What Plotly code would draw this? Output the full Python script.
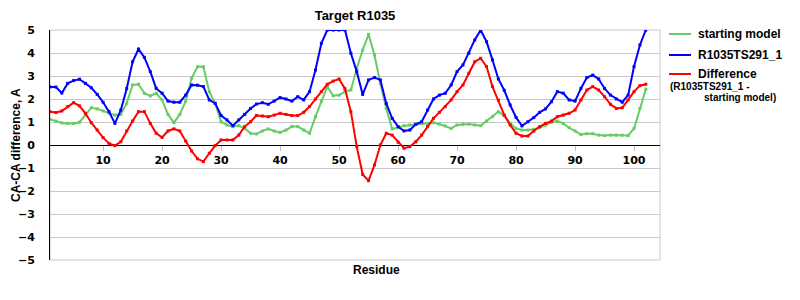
import plotly.graph_objects as go

residues = list(range(1, 103))

starting_model = [
    1.12, 1.04, 0.96, 0.94, 0.94, 0.99, 1.30, 1.62, 1.57, 1.48,
    1.38, 1.30, 1.33, 1.81, 2.61, 2.64, 2.25, 2.13, 2.25, 1.96,
    1.33, 0.97, 1.33, 1.91, 2.90, 3.40, 3.40, 2.32, 1.81, 1.01,
    0.87, 0.80, 0.84, 0.72, 0.51, 0.48, 0.61, 0.70, 0.61, 0.55,
    0.65, 0.80, 0.80, 0.65, 0.51, 1.23, 1.91, 2.54, 2.14, 2.17,
    2.32, 2.39, 3.33, 4.13, 4.81, 3.91, 2.68, 1.59, 0.70, 0.75,
    0.84, 0.87, 0.90, 0.93, 0.94, 0.97, 0.91, 0.83, 0.72, 0.87,
    0.90, 0.91, 0.87, 0.84, 1.04, 1.23, 1.45, 1.28, 0.94, 0.72,
    0.65, 0.65, 0.68, 0.75, 0.87, 0.99, 1.04, 0.94, 0.75, 0.61,
    0.46, 0.49, 0.49, 0.43, 0.41, 0.43, 0.43, 0.43, 0.41, 0.72,
    1.59, 2.43,
]

model_r1035ts291 = [
    2.52, 2.52, 2.26, 2.68, 2.80, 2.86, 2.68, 2.49, 2.20, 1.86,
    1.45, 0.94, 1.52, 2.45, 3.62, 4.17, 3.81, 3.19, 2.46, 2.25,
    1.91, 1.86, 1.86, 2.17, 2.61, 2.60, 2.54, 1.96, 1.81, 1.28,
    1.09, 0.84, 1.09, 1.33, 1.59, 1.78, 1.84, 1.77, 1.91, 2.06,
    2.00, 1.91, 2.10, 1.96, 2.32, 3.26, 4.42, 5.00, 5.00, 5.00,
    5.00, 3.99, 3.19, 2.20, 2.83, 2.93, 2.83, 1.81, 1.16, 0.80,
    0.61, 0.65, 0.90, 1.01, 1.52, 2.00, 2.17, 2.25, 2.61, 3.19,
    3.48, 3.99, 4.57, 5.00, 4.49, 3.70, 2.87, 2.38, 1.74, 1.20,
    0.83, 1.01, 1.19, 1.42, 1.57, 1.88, 2.32, 2.25, 1.96, 1.91,
    2.46, 2.93, 3.04, 2.87, 2.46, 2.17, 2.00, 1.86, 2.17, 3.41,
    4.35, 5.00,
]

difference = [
    1.45, 1.41, 1.48, 1.67, 1.84, 1.70, 1.38, 0.97, 0.65, 0.32,
    0.07, -0.03, 0.14, 0.61, 1.04, 1.45, 1.45, 0.94, 0.51, 0.33,
    0.61, 0.70, 0.61, 0.17, -0.26, -0.60, -0.72, -0.36, -0.03, 0.22,
    0.22, 0.22, 0.43, 0.80, 1.01, 1.28, 1.26, 1.23, 1.30, 1.38,
    1.33, 1.28, 1.28, 1.42, 1.67, 2.00, 2.32, 2.64, 2.78, 2.87,
    2.45, 1.45, -0.07, -1.28, -1.55, -0.87, 0.00, 0.51, 0.43, 0.12,
    -0.14, -0.07, 0.14, 0.43, 0.80, 1.16, 1.42, 1.67, 1.96, 2.32,
    2.61, 3.12, 3.62, 3.77, 3.41, 2.54, 1.95, 1.30, 0.87, 0.51,
    0.39, 0.39, 0.61, 0.80, 0.94, 1.04, 1.23, 1.30, 1.38, 1.52,
    1.96, 2.39, 2.54, 2.39, 2.10, 1.77, 1.59, 1.62, 1.96, 2.32,
    2.58, 2.64,
]

x_ticks = [10, 20, 30, 40, 50, 60, 70, 80, 90, 100]
y_ticks = [-5, -4, -3, -2, -1, 0, 1, 2, 3, 4, 5]

GREEN = "#66cc66"
BLUE = "#0000ff"
RED = "#ff0000"
LBL = "Liberation Sans"
TCK = "DejaVu Sans"

# plot area in pixels
PL, PR, PT, PB = 50, 660, 30, 260


def px(xp):
    return (xp - PL) / (PR - PL)


def py(yp):
    return (PB - yp) / (PB - PT)


fig = go.Figure()
for name, vals, col in [("starting model", starting_model, GREEN),
                        ("R1035TS291_1", model_r1035ts291, BLUE),
                        ("Difference", difference, RED)]:
    fig.add_trace(go.Scatter(
        x=residues, y=vals, mode="lines+markers", name=name,
        line=dict(color=col, width=2),
        marker=dict(color=col, size=3, symbol="square"),
        showlegend=False, cliponaxis=True,
    ))

fig.update_layout(
    width=800, height=300,
    margin=dict(l=PL, r=800 - PR, t=PT, b=300 - PB),
    paper_bgcolor="white", plot_bgcolor="white",
    showlegend=False,
    title=dict(text="<b>Target R1035</b>", x=355 / 800, xanchor="center",
               y=1 - 15 / 300, yanchor="middle",
               font=dict(family=LBL, size=13, color="black")),
    xaxis=dict(
        range=[1, 104.4], tickvals=x_ticks,
        ticktext=[f"<b>{t}</b>" for t in x_ticks],
        anchor="free", position=0.5,
        showgrid=False, zeroline=False, showline=False,
        ticks="outside", ticklen=5, tickcolor="#c0c0c0", tickwidth=1,
        tickfont=dict(family=TCK, size=11, color="black"),
    ),
    yaxis=dict(
        range=[-5, 5], tickvals=y_ticks,
        ticktext=[f"<b>{'\u2212' + str(-t) if t < 0 else t}</b>" for t in y_ticks],
        showgrid=True, gridcolor="#c8c8c8", gridwidth=1,
        zeroline=True, zerolinecolor="black", zerolinewidth=1,
        showline=True, linecolor="black", linewidth=1,
        ticks="outside", ticklen=12, tickcolor="rgba(0,0,0,0)",
        tickfont=dict(family=TCK, size=11, color="black"),
    ),
)

# plot-area frame (grey)
fig.add_shape(type="rect", xref="paper", yref="paper", x0=0, x1=1, y0=0, y1=1,
              line=dict(color="#c8c8c8", width=1), layer="below")

fig.add_annotation(text="<b>CA-CA difference, A</b>", xref="paper", yref="paper",
                   x=px(16), y=0.5, xanchor="center", yanchor="middle",
                   textangle=-90, showarrow=False,
                   font=dict(family=LBL, size=12, color="black"))
fig.add_annotation(text="<b>Residue</b>", xref="paper", yref="paper",
                   x=px(376), y=py(270), xanchor="center",
                   yanchor="middle", showarrow=False,
                   font=dict(family=LBL, size=12, color="black"))

# custom legend
leg = [("starting model", GREEN, 34), ("R1035TS291_1", BLUE, 55), ("Difference", RED, 74)]
for text, col, ypix in leg:
    fig.add_shape(type="line", xref="paper", yref="paper",
                  x0=px(669), x1=px(691), y0=py(ypix), y1=py(ypix),
                  line=dict(color=col, width=2))
    fig.add_annotation(text=f"<b>{text}</b>", xref="paper", yref="paper",
                       x=px(696), y=py(ypix), xanchor="left", yanchor="middle",
                       showarrow=False,
                       font=dict(family=LBL, size=12, color="black"))

fig.add_annotation(text="<b>(R1035TS291_1 -</b>", xref="paper", yref="paper",
                   x=px(668), y=py(86), xanchor="left", yanchor="middle",
                   showarrow=False, font=dict(family=LBL, size=10, color="black"))
fig.add_annotation(text="<b>starting model)</b>", xref="paper", yref="paper",
                   x=px(778), y=py(97), xanchor="right", yanchor="middle",
                   showarrow=False, font=dict(family=LBL, size=10, color="black"))

fig.write_html("out.html")
